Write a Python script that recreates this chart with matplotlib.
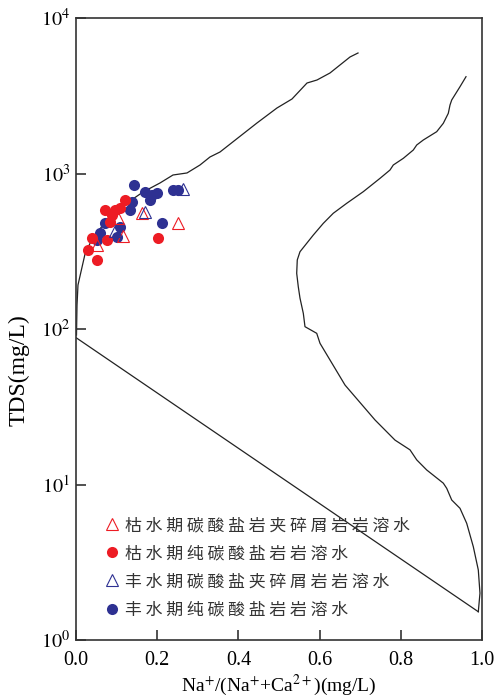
import numpy as np
import matplotlib
matplotlib.use("Agg")
import matplotlib.pyplot as plt
from matplotlib.lines import Line2D

plt.rcParams['font.family'] = ['Liberation Serif']
plt.rcParams['mathtext.fontset'] = 'stix'

RED = '#ED1C24'
BLUE = '#2E3192'

# Gibbs boundary curves (data coords)
left_x = [0.0012, 0.0025, 0.0049, 0.0099, 0.0222, 0.0419, 0.0837, 0.1256, 0.165, 0.2069,
          0.2389, 0.2734, 0.3054, 0.330, 0.3547, 0.4458, 0.495, 0.532, 0.569, 0.5936,
          0.6256, 0.6749, 0.6946]
left_y = [91.5, 142.6, 191.8, 219.2, 303.5, 390.6, 525, 646, 760, 869,
          978, 1008, 1134, 1277, 1375, 2113, 2638, 3014, 3819, 3993,
          4430, 5614, 5956]

right_x = [0.9606, 0.9458, 0.9254, 0.9212, 0.917, 0.9047, 0.8884, 0.8554, 0.8392, 0.8308,
           0.8062, 0.7815, 0.7734, 0.7488, 0.7076, 0.6667, 0.6337, 0.6091, 0.5845, 0.5517,
           0.545, 0.5436, 0.5475, 0.5517, 0.5599, 0.564, 0.5929, 0.601, 0.6626, 0.7365,
           0.7857, 0.8227, 0.8392, 0.8638, 0.9047, 0.9131, 0.9254, 0.9458, 0.9623, 0.9786,
           0.9909, 0.995, 0.9909]
right_y = [4193, 3615, 2970, 2757, 2438, 2103, 1857, 1642, 1525, 1416,
           1252, 1134, 1053, 931, 764, 643, 555, 478, 402, 314,
           278, 228, 187, 158, 126, 103.5, 93.8, 80.9, 43.6, 26.0,
           19.3, 16.7, 14.4, 12.4, 10.2, 9.45, 7.95, 7.03, 5.63, 3.98,
           2.82, 2.0, 1.52]

diag_x = [0.0, 0.9909]
diag_y = [88, 1.52]

# samples
dry_mix_x = [0.1618, 0.1042, 0.1165, 0.2505, 0.051]
dry_mix_y = [555, 515, 396, 478, 347]

dry_pure_x = [0.1207, 0.0714, 0.096, 0.1084, 0.0879, 0.0837, 0.0387, 0.0756, 0.0303, 0.051, 0.2027]
dry_pure_y = [675, 583, 583, 600, 541, 490, 383, 374, 322, 278, 383]

wet_mix_x = [0.17, 0.096, 0.2643]
wet_mix_y = [568, 427, 791]

wet_pure_x = [0.143, 0.170, 0.1865, 0.1988, 0.1823, 0.2397, 0.2505, 0.1372, 0.133, 0.0714,
              0.1084, 0.0591, 0.1002, 0.051, 0.211]
wet_pure_y = [843, 764, 727, 746, 675, 783, 783, 651, 583, 478,
              455, 413, 392, 374, 483]

labels = ['枯水期碳酸盐岩夹碎屑岩岩溶水', '枯水期纯碳酸盐岩岩溶水',
          '丰水期碳酸盐夹碎屑岩岩溶水', '丰水期纯碳酸盐岩岩溶水']

fig = plt.figure(figsize=(4.98, 6.97), dpi=100)
ax = fig.add_axes([76 / 498, 1 - 640 / 697, 406 / 498, 622 / 697])

lc = '#222222'
ax.plot(left_x, left_y, color=lc, lw=0.9)
ax.plot(right_x, right_y, color=lc, lw=0.9)
ax.plot(diag_x, diag_y, color=lc, lw=0.9)

ax.plot(wet_pure_x, wet_pure_y, 'o', ms=8, color=BLUE, mec='none')
ax.plot(dry_pure_x, dry_pure_y, 'o', ms=8, color=RED, mec='none')
ax.plot(dry_mix_x, dry_mix_y, '^', ms=9, mfc='none', mec=RED, mew=0.8)
ax.plot(wet_mix_x, wet_mix_y, '^', ms=9, mfc='none', mec=BLUE, mew=0.8)

ax.set_yscale('log')
ax.set_xlim(0, 1)
ax.set_ylim(1, 1e4)
ax.set_xticks([0, 0.2, 0.4, 0.6, 0.8, 1.0])
ax.set_xticklabels(['0.0', '0.2', '0.4', '0.6', '0.8', '1.0'])
ax.set_yticks([1, 10, 100, 1000, 10000])
ax.set_yticklabels(['$10^{0}$', '$10^{1}$', '$10^{2}$', '$10^{3}$', '$10^{4}$'])
ax.minorticks_off()
ax.tick_params(direction='in', length=7, width=1.2, color='#333333', labelsize=14.5)
ax.tick_params(axis='x', pad=8)
ax.tick_params(axis='y', pad=4)
for s in ax.spines.values():
    s.set_linewidth(1.2)
    s.set_color('#333333')

ax.set_xlabel('Na$^{+}$/(Na$^{+}$+Ca$^{2+}$)(mg/L)', fontsize=14, labelpad=2)
ax.set_ylabel('TDS(mg/L)', fontsize=17)
ax.yaxis.set_label_coords(-0.115, 0.434)

handles = [
    Line2D([], [], ls='none', marker='^', ms=9, mfc='none', mec=RED, mew=0.8),
    Line2D([], [], ls='none', marker='o', ms=8, color=RED, mec='none'),
    Line2D([], [], ls='none', marker='^', ms=9, mfc='none', mec=BLUE, mew=0.8),
    Line2D([], [], ls='none', marker='o', ms=8, color=BLUE, mec='none'),
]
leg = ax.legend(handles, [' '.join(t) for t in labels], loc='lower left',
                bbox_to_anchor=(0.03, 0.01), frameon=False, handlelength=1.0,
                handletextpad=0.3, labelspacing=0.6,
                prop={'family': ['Noto Sans CJK SC'], 'size': 12.2})
for t in leg.get_texts():
    t.set_color('#333333')

fig.savefig('out.png', dpi=100)
